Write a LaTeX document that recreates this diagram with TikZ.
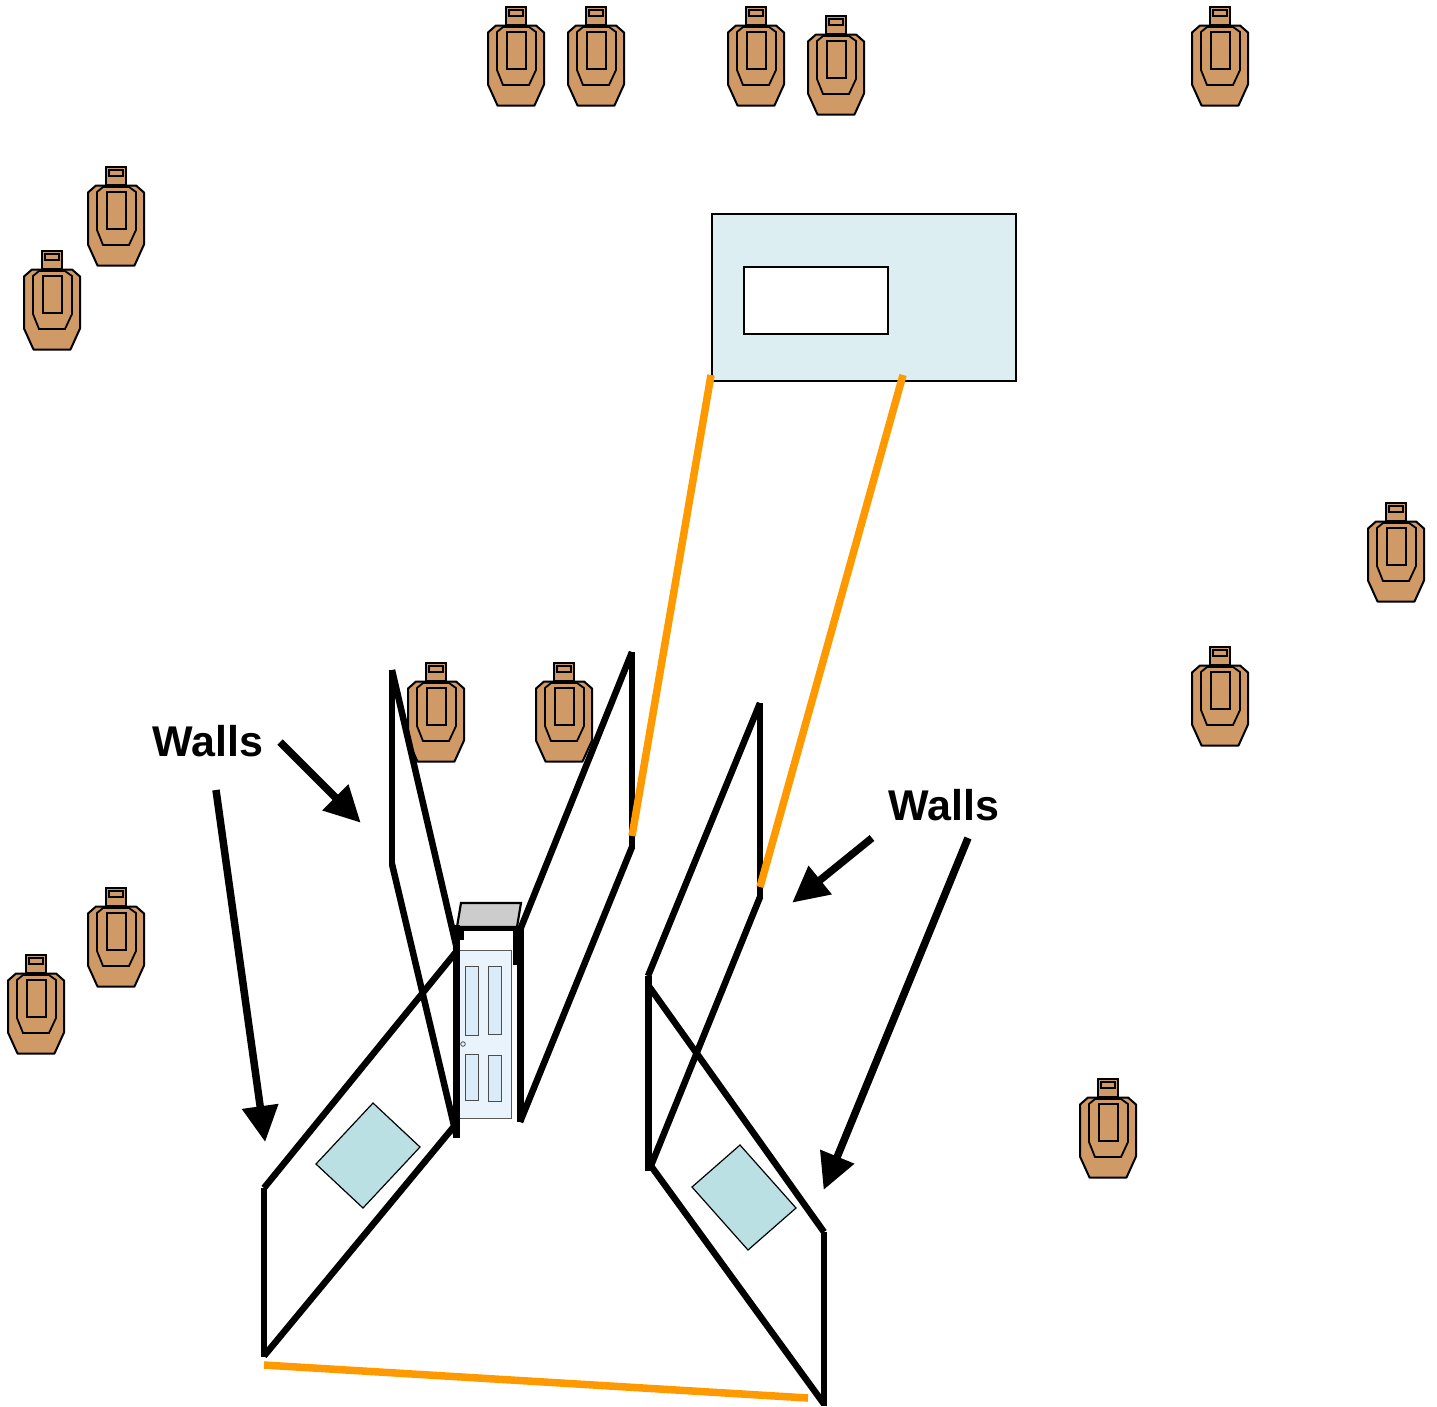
\documentclass[tikz,border=0pt]{standalone}
\usepackage{fontspec}
\setmainfont{Liberation Sans}
\usetikzlibrary{arrows.meta}
\definecolor{tan}{HTML}{CF9A66}
\definecolor{wallorange}{HTML}{FF9900}
\definecolor{panel}{HTML}{DDEEF2}
\definecolor{window}{HTML}{BAE0E3}
\definecolor{doorbg}{HTML}{E8F3FC}
\definecolor{doorpanel}{HTML}{DAEBF9}
\tikzset{
  x=1pt,y=-1pt,
  wall/.style={draw=black,line width=6.5pt,line cap=butt},
  post/.style={draw=black,line width=7pt},
  orangeline/.style={draw=wallorange,line width=7.5pt},
  callout/.style={draw=black,line width=7.5pt,-{Triangle[length=36pt,width=35pt]},shorten >=-1pt},
  label/.style={font=\bfseries\fontsize{43}{47}\selectfont,inner sep=0pt,text=black},
  target/.pic={
    \draw[fill=tan,line width=2pt,line join=miter] (-10,0.5) rectangle (10,19);
    \draw[fill=tan,line width=1.2pt] (-7,4) rectangle (7,10);
    \draw[fill=tan,line width=2pt,line join=round] (-20,19.5)--(20,19.5)--(28,26.5)--(28,78.5)--(18.5,99.5)--(-18.5,99.5)--(-28,78.5)--(-28,26.5)--cycle;
    \draw[line width=1.8pt] (-19,26)--(-13,21)--(13,21)--(20,26)--(20,64)--(13,79)--(-13,79)--(-19,64)--cycle;
    \draw[line width=1.8pt] (-9,26) rectangle (10,63);
  }
}
\begin{document}
\begin{tikzpicture}
\useasboundingbox (0,0) rectangle (1437,1406);
\foreach \n/\px/\py in {t1/516/6,t2/596/6,t3/756/6,t4/836/15,t5/1220/6,t6/116/166,t7/52/250,t8/1396/502,t9/1220/646,t10/436/662,t11/564/662,t12/116/887,t13/36/954,t14/1108/1078}
  \pic (\n) at (\px,\py) {target};
% panel
\draw[fill=panel,line width=1.2pt] (712,214) rectangle (1016,381);
\draw[fill=white,line width=1.2pt] (744,267) rectangle (888,334);
% door
\fill[doorbg] (459,950) rectangle (511,1118);
\draw[gray!70!black,line width=.8pt] (459,950) rectangle (511,1118);
\foreach \ax/\ay/\bx/\by in {465/966/478/1035,488/966/501/1034,465/1054/478/1100,488/1055/501/1101}
  \draw[fill=doorpanel,draw=black!70,line width=.9pt] (\ax,\ay) rectangle (\bx,\by);
\draw[black!70,line width=.8pt,fill=doorbg] (463,1044) circle (2.3);
% roof
\draw[fill=black!20,line width=2.2pt] (461,903)--(521,903)--(517,927)--(457,927)--cycle;
\draw[post,line width=5pt] (456,928)--(522,928);
\draw[post,line width=4.5pt] (461.5,928)--(461.5,940);
\draw[wall,line width=5pt] (515.5,928)--(515.5,965);
% left walls
\draw[wall] (392,670)--(392,865);
\draw[wall] (392,864)--(456,1134);
\draw[wall] (392,670)--(456,945);
\draw[post] (456,925)--(456,1138);
\draw[wall] (632,652)--(632,848);
\draw[wall] (632,847)--(520,1122);
\draw[wall] (632,652)--(520,930);
\draw[post] (520,928)--(520,1122);
\draw[wall] (456,952)--(264,1188);
\draw[wall] (264,1188)--(264,1357);
\draw[wall] (264,1356)--(456,1124);
% right walls
\draw[wall] (648,976)--(760,703);
\draw[wall] (760,703)--(760,898);
\draw[wall] (760,897)--(650,1168);
\draw[post] (648,976)--(648,1171);
\draw[wall] (648,985)--(824,1232);
\draw[wall] (824,1232)--(824,1406);
\draw[wall] (824,1404)--(651,1166);
% windows
\draw[fill=window,line width=1.2pt] (373,1103)--(420,1147)--(363,1208)--(316,1164)--cycle;
\draw[fill=window,line width=1.2pt] (740,1145)--(796,1208)--(748,1250)--(692,1187)--cycle;
% orange
\draw[orangeline] (264,1365)--(808,1398);
\draw[orangeline] (632,836)--(711,375);
\draw[orangeline] (760,887)--(903,375);
% labels and callouts
\node[label,anchor=base west] (wl) at (152,756) {Walls};
\node[label,anchor=base west] (wr) at (888,820) {Walls};
\coordinate (a1) at (216,790); \coordinate (a1e) at (265,1141);
\coordinate (a2) at (280,742); \coordinate (a2e) at (360,822);
\coordinate (a3) at (872,838); \coordinate (a3e) at (793,902);
\coordinate (a4) at (968,838); \coordinate (a4e) at (824,1189);
\draw[callout] (a1)--(a1e);
\draw[callout] (a2)--(a2e);
\draw[callout] (a3)--(a3e);
\draw[callout] (a4)--(a4e);
\end{tikzpicture}
\end{document}
